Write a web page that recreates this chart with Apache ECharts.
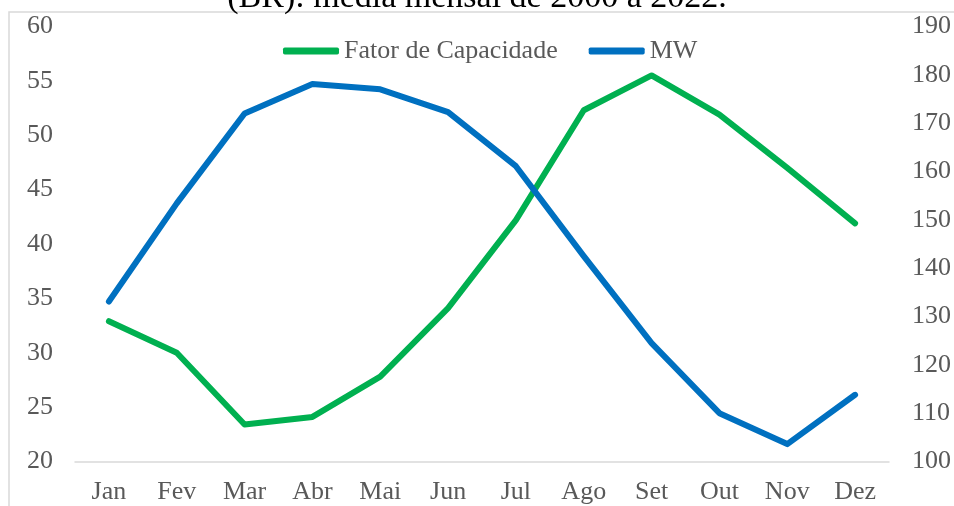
<!DOCTYPE html>
<html>
<head>
<meta charset="utf-8">
<script src="https://cdn.jsdelivr.net/npm/echarts@6/dist/echarts.min.js"></script>
<style>
    html, body { margin: 0; padding: 0; background: #fff; }
    #chart { width: 954px; height: 506px; }
</style>
</head>
<body>
<div id="chart"></div>
<script>
    var months = ['Jan', 'Fev', 'Mar', 'Abr', 'Mai', 'Jun', 'Jul', 'Ago', 'Set', 'Out', 'Nov', 'Dez'];
    // fator de capacidade (%), eixo da esquerda
    var fatorCapacidade = [32.9, 30.0, 23.4, 24.1, 27.8, 34.1, 42.2, 52.3, 55.5, 51.9, 47.0, 41.9];
    // potencia media (MW), eixo da direita
    var mw = [133.1, 153.4, 172.0, 178.1, 177.0, 172.3, 161.1, 142.5, 124.5, 110.0, 103.6, 113.8];
    var seriesNames = ['Fator de Capacidade', 'MW'];
    var titleText = '(BR): média mensal de 2000 a 2022.';

    var font = "'Liberation Serif', 'Times New Roman', serif";
    var grey = '#595959';
    var lineGrey = '#d9d9d9';

    var myChart = echarts.init(document.getElementById('chart'));

    var option = {
        animation: false,
        backgroundColor: '#fff',
        title: {
            text: titleText,
            left: 'center',
            top: -19,
            padding: 0,
            textStyle: { fontFamily: font, fontSize: 34, fontWeight: 'normal', color: '#000' }
        },
        graphic: [{
            type: 'rect',
            shape: { x: 9, y: 12, width: 960, height: 520 },
            style: { fill: 'none', stroke: lineGrey, lineWidth: 1.5 },
            silent: true
        }],
        legend: {
            left: 283,
            top: 38,
            padding: 0,
            icon: 'roundRect',
            itemWidth: 56,
            itemHeight: 7,
            itemGap: 31,
            textStyle: { fontFamily: font, fontSize: 26, color: grey },
            data: seriesNames
        },
        grid: { left: 75, right: 65, top: 26.5, bottom: 44.5, outerBoundsMode: 'none' },
        xAxis: {
            type: 'category',
            data: months,
            boundaryGap: true,
            axisLine: { lineStyle: { color: lineGrey, width: 1.5 } },
            axisTick: { length: 6, lineStyle: { color: lineGrey, width: 1.5 } },
            axisLabel: { margin: 18, fontFamily: font, fontSize: 26, color: grey }
        },
        yAxis: [{
            type: 'value',
            min: 20,
            max: 60,
            interval: 5,
            splitLine: { show: false },
            axisLine: { show: false },
            axisTick: { show: false },
            axisLabel: { margin: 22, padding: [6, 0, 0, 0], fontFamily: font, fontSize: 26, color: grey }
        }, {
            type: 'value',
            min: 100,
            max: 190,
            interval: 10,
            splitLine: { show: false },
            axisLine: { show: false },
            axisTick: { show: false },
            axisLabel: { margin: 23, padding: [6, 0, 0, 0], fontFamily: font, fontSize: 26, color: grey }
        }],
        series: [{
            name: seriesNames[0],
            type: 'line',
            yAxisIndex: 0,
            data: fatorCapacidade,
            symbol: 'none',
            color: '#00b050',
            lineStyle: { width: 6, cap: 'round', join: 'round' }
        }, {
            name: seriesNames[1],
            type: 'line',
            yAxisIndex: 1,
            data: mw,
            symbol: 'none',
            color: '#0070c0',
            lineStyle: { width: 6, cap: 'round', join: 'round' }
        }]
    };

    myChart.setOption(option);
</script>
</body>
</html>
